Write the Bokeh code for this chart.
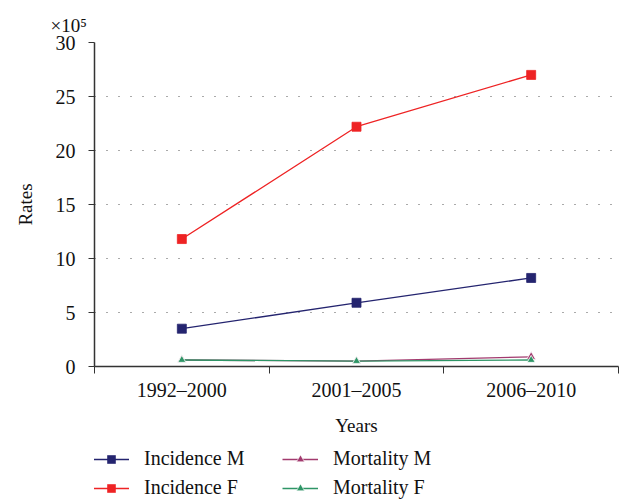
from bokeh.plotting import figure
from bokeh.models import (ColumnDataSource, FixedTicker, Legend, LegendItem, Title, Range1d)
from bokeh.layouts import column
from bokeh.embed import file_html
from bokeh.resources import INLINE

years = ["1992\u20132000", "2001\u20132005", "2006\u20132010"]
incidence_m = [3.5, 5.9, 8.2]
incidence_f = [11.8, 22.2, 27.0]
mortality_m = [0.6, 0.5, 0.9]
mortality_f = [0.6, 0.5, 0.6]
y_ticks = [0, 5, 10, 15, 20, 25, 30]
series_names = ["Incidence M", "Incidence F", "Mortality M", "Mortality F"]

FONT = "Liberation Serif"
xpos = [i + 0.5 for i in range(len(years))]

p = figure(width=621, height=447, output_backend="svg", toolbar_location=None,
           x_range=Range1d(0, len(years)), y_range=Range1d(0, 30),
           min_border_left=94, min_border_top=42, min_border_right=3,
           min_border_bottom=81)
p.outline_line_color = None
p.background_fill_color = "white"
p.border_fill_color = "white"

src = ColumnDataSource(dict(x=xpos, im=incidence_m, inf=incidence_f, mm=mortality_m, mf=mortality_f))

c_im = "#24246F"
c_if = "#EE2324"
c_mm = "#A23A6E"
c_mf = "#2E9566"

styles = [
    ("im", c_im, "square", 9, c_im),
    ("inf", c_if, "square", 9, c_if),
    ("mm", c_mm, "triangle", 9, "white"),
    ("mf", c_mf, "triangle", 8, "white"),
]

for col, c, mk, sz, oc in styles:
    p.line("x", col, source=src, line_color=c, line_width=1.3)
    p.scatter("x", col, source=src, marker=mk, size=sz, fill_color=c, line_color=oc, line_width=0.8)

# grid
p.xgrid.grid_line_color = None
p.ygrid.ticker = FixedTicker(ticks=y_ticks[1:])
p.ygrid.grid_line_color = "#555555"
p.ygrid.grid_line_dash = "1 11"
p.ygrid.grid_line_width = 1.2

# y axis
ya = p.yaxis[0]
ya.ticker = FixedTicker(ticks=y_ticks)
ya.axis_label = "Rates"
ya.axis_label_text_font = FONT
ya.axis_label_text_font_size = "19px"
ya.axis_label_text_font_style = "normal"
ya.axis_label_text_color = "#111111"
ya.axis_label_standoff = 17
ya.major_label_text_font = FONT
ya.major_label_text_font_size = "20px"
ya.major_label_text_color = "#111111"
ya.major_tick_out = 6
ya.major_tick_in = 0
ya.minor_tick_out = 0
ya.minor_tick_in = 0
ya.major_label_standoff = 13
ya.axis_line_color = "#333333"
ya.major_tick_line_color = "#333333"
ya.axis_line_width = 1.5

# x axis
xa = p.xaxis[0]
xa.ticker = FixedTicker(ticks=xpos, minor_ticks=list(range(len(years) + 1)))
xa.major_label_overrides = {x: y for x, y in zip(xpos, years)}
xa.major_tick_out = 0
xa.major_tick_in = 0
xa.minor_tick_out = 7
xa.minor_tick_in = 0
xa.minor_tick_line_color = "#333333"
xa.axis_line_color = "#333333"
xa.axis_line_width = 1.5
xa.major_label_text_font = FONT
xa.major_label_text_font_size = "20px"
xa.major_label_text_color = "#111111"
xa.major_label_standoff = 5
xa.axis_label = "Years"
xa.axis_label_text_font = FONT
xa.axis_label_text_font_size = "19px"
xa.axis_label_text_font_style = "normal"
xa.axis_label_text_color = "#111111"
xa.axis_label_standoff = 11

# scale factor
p.add_layout(Title(text="\u00d710\u2075", align="left", offset=-44, standoff=14,
                   text_font=FONT, text_font_size="19px", text_font_style="normal",
                   text_color="#111111"), "above")

# legend strip: separate figure (same data, drawn outside its visible range)
pl = figure(width=621, height=53, output_backend="svg", toolbar_location=None,
            x_range=Range1d(-10, -9), y_range=Range1d(-10, -9),
            x_axis_type=None, y_axis_type=None,
            min_border_left=0, min_border_right=0, min_border_top=0, min_border_bottom=0)
pl.outline_line_color = None
pl.xgrid.visible = False
pl.ygrid.visible = False

items = []
for name, (col, c, mk, sz, oc) in zip(series_names, styles):
    rl = pl.line("x", col, source=src, line_color=c, line_width=1.3)
    rm = pl.scatter("x", col, source=src, marker=mk, size=sz - 2, fill_color=c,
                    line_color=oc, line_width=0.6)
    items.append(LegendItem(label=name, renderers=[rl, rm]))


def make_legend(its, x):
    lg = Legend(items=its, location=(x, 1))
    lg.label_text_font = FONT
    lg.label_text_font_size = "20px"
    lg.label_text_color = "#111111"
    lg.glyph_width = 36
    lg.label_standoff = 15
    lg.spacing = 6
    lg.padding = 0
    lg.margin = 0
    lg.border_line_color = None
    lg.background_fill_alpha = 0
    lg.label_height = 20
    lg.glyph_height = 20
    return lg


pl.add_layout(make_legend(items[:2], -1))
pl.add_layout(make_legend(items[2:], 188))

layout = column(p, pl, spacing=0)
open("out.html", "w").write(file_html(layout, INLINE))
